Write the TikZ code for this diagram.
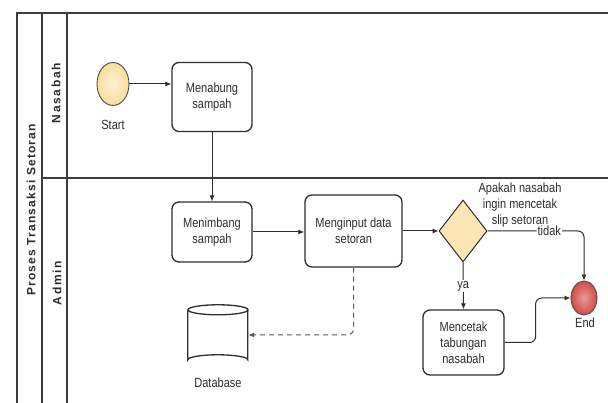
\documentclass[tikz,border=0pt]{standalone}
\usepackage{fontspec}
\setmainfont[FakeStretch=0.83]{Liberation Sans}
\newfontfamily\poolfont[LetterSpace=10]{Liberation Sans Bold}
\newfontfamily\lanefont[LetterSpace=14]{Liberation Sans Bold}
\usetikzlibrary{shapes.geometric,arrows.meta}
\definecolor{ink}{HTML}{2E2E2E}
\definecolor{linegray}{HTML}{3C3C3C}
\definecolor{startfill}{HTML}{F7DE9A}
\definecolor{gatefill}{HTML}{FBE7B5}
\definecolor{endfill}{HTML}{D24B45}
\tikzset{
  txt/.style={font=\fontsize{13.3}{16}\selectfont, text=ink, align=center},
  task/.style={txt, draw=ink, line width=1.3pt, rounded corners=7pt, fill=white,
    minimum width=#1, inner sep=0pt},
  gate/.style={diamond, draw=ink, line width=1pt, fill=gatefill, inner sep=0pt,
    minimum width=48pt, minimum height=62pt},
  evt/.style={ellipse, draw=ink!85, line width=0.9pt, inner sep=0pt},
  flow/.style={draw=ink, line width=1pt, -{Latex[length=6pt,width=5pt]}},
  msg/.style={flow, dashed, dash pattern=on 5pt off 4pt, draw=ink!80},
  lbl/.style={txt, inner sep=1pt},
  pool/.style={draw=linegray, line width=1.3pt},
  lanetxt/.style={rotate=90, text=ink, font=\lanefont\fontsize{12}{14}\selectfont},
}
\begin{document}
\begin{tikzpicture}[x=1pt,y=-1pt]
\useasboundingbox (0,0) rectangle (608,403);
\fill[white] (0,0) rectangle (608,403);

% pool and lanes
\draw[pool] (17,403) -- (17,13) -- (608,13);
\draw[pool] (42,13) -- (42,403);
\draw[pool] (67,13) -- (67,403);
\draw[pool] (42,178) -- (608,178);
\node[rotate=90, text=ink, font=\poolfont\fontsize{12}{14}\selectfont] (poolname) at (31,210) {Proses Transaksi Setoran};
\node[lanetxt] (lane1) at (56,93) {Nasabah};
\node[lanetxt] (lane2) at (57,283) {Admin};

% events
\node[evt, minimum width=32pt, minimum height=43pt, inner color=startfill!40, outer color=startfill] (start) at (113,84) {};
\node[lbl] (startlbl) at (113,125) {Start};
\node[evt, minimum width=26pt, minimum height=34pt, inner color=endfill!55, outer color=endfill] (end) at (584,298) {};
\node[lbl] (endlbl) at (585,323) {End};

% tasks
\node[task=80pt, minimum height=69pt] (menabung) at (212,97) {Menabung\\sampah};
\node[task=80pt, minimum height=60pt] (menimbang) at (212,232) {Menimbang\\sampah};
\node[task=97pt, minimum height=72pt] (input) at (353.5,231) {Menginput data\\setoran};
\node[gate] (gate) at (463,231) {};
\node[lbl] (question) at (520,205) {Apakah nasabah\\ingin mencetak\\slip setoran};
\node[task=81pt, minimum height=65pt] (cetak) at (463.5,342.5) {Mencetak\\tabungan\\nasabah};

% data store
\node[minimum width=60pt, minimum height=60pt, inner sep=0pt] (db) at (218,335) {};
\draw[ink, line width=1.3pt, fill=white] (db.north west) ++(0,5)
  -- ++(0,50) arc[start angle=180, end angle=0, x radius=30pt, y radius=5pt]
  -- ++(0,-50);
\draw[ink, line width=1.3pt] (db.north) ++(0,5) ellipse [x radius=30pt, y radius=5pt];
\node[lbl] (dblbl) at (218,383) {Database};

% sequence flows
\draw[flow] (start) -- (start -| menabung.west);
\draw[flow] (menabung) -- (menimbang);
\draw[flow] (menimbang) -- (menimbang -| input.west);
\draw[flow] (input.east |- gate) -- (gate.west);
\draw[flow, rounded corners=6pt] (gate.east) -| node[lbl, pos=0.32, fill=white] {tidak} (end.north);
\draw[flow] (gate.south) -- node[lbl, fill=white] {ya} (cetak.north);
\draw[flow, rounded corners=6pt] (cetak.east) -- ++(31,0) |- (end.west);
\draw[msg, rounded corners=6pt] (input.south) |- (db.east);
\end{tikzpicture}
\end{document}
